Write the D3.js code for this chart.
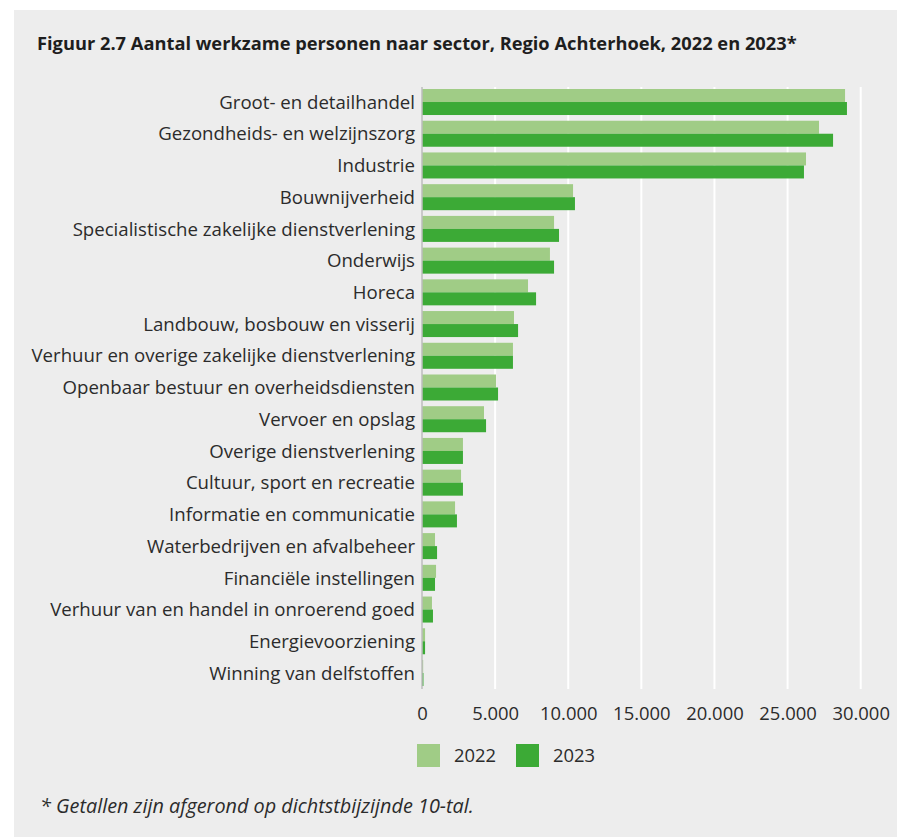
<!DOCTYPE html>
<html>
<head>
<meta charset="utf-8">
<script src="https://cdn.jsdelivr.net/npm/d3@7"></script>
<style>
  html, body { margin: 0; padding: 0; background: #ffffff; }
  svg { display: block; }
  text { font-family: "Open Sans", "Noto Sans", sans-serif; }
</style>
</head>
<body>
<svg id="chart" width="897" height="837"></svg>
<script>
const titleText = "Figuur 2.7 Aantal werkzame personen naar sector, Regio Achterhoek, 2022 en 2023*";
const footnoteText = "* Getallen zijn afgerond op dichtstbijzijnde 10-tal.";

const categories = [
  "Groot- en detailhandel",
  "Gezondheids- en welzijnszorg",
  "Industrie",
  "Bouwnijverheid",
  "Specialistische zakelijke dienstverlening",
  "Onderwijs",
  "Horeca",
  "Landbouw, bosbouw en visserij",
  "Verhuur en overige zakelijke dienstverlening",
  "Openbaar bestuur en overheidsdiensten",
  "Vervoer en opslag",
  "Overige dienstverlening",
  "Cultuur, sport en recreatie",
  "Informatie en communicatie",
  "Waterbedrijven en afvalbeheer",
  "Financiële instellingen",
  "Verhuur van en handel in onroerend goed",
  "Energievoorziening",
  "Winning van delfstoffen"
];
const series = ["2022", "2023"];
const values2022 = [28930, 27150, 26260, 10330, 9030, 8750, 7250, 6290, 6220, 5060, 4240, 2800, 2670, 2260, 890, 960, 680, 210, 80];
const values2023 = [29060, 28110, 26120, 10460, 9370, 9030, 7800, 6570, 6220, 5200, 4380, 2800, 2800, 2390, 1030, 890, 750, 210, 100];
const tickValues = [0, 5000, 10000, 15000, 20000, 25000, 30000];
const tickLabels = ["0", "5.000", "10.000", "15.000", "20.000", "25.000", "30.000"];

const colors = { "2022": "#a0cc86", "2023": "#3caa36" };

const data = categories.map((c, i) => ({ category: c, "2022": values2022[i], "2023": values2023[i] }));

const svg = d3.select("#chart");

// fit font-size so that a text reaches a target width
function fitSize(str, targetWidth, weight, style) {
  const t = svg.append("text").attr("font-size", 20)
    .attr("font-weight", weight || "normal").attr("font-style", style || "normal").text(str);
  const w = t.node().getComputedTextLength();
  t.remove();
  return 20 * targetWidth / w;
}

// panel background
svg.append("rect").attr("x", 14).attr("y", 10).attr("width", 883).attr("height", 827).attr("fill", "#ededed");

// title
const titleSize = fitSize(titleText, 760, "bold");
svg.append("text").attr("x", 37).attr("y", 50)
  .attr("font-size", titleSize).attr("font-weight", "bold").attr("fill", "#1e1e1e")
  .text(titleText);

// scales
const x = d3.scaleLinear().domain([0, 30000]).range([422, 860.7]);
const y = d3.scaleBand().domain(categories).range([83.3, 691.7]).padding(0.18);
const ySub = d3.scaleBand().domain(series).range([0, y.bandwidth()]);

const gridTop = 87, gridBottom = 689;

// gridlines
svg.append("g").selectAll("line").data(tickValues.filter(d => d > 0)).join("line")
  .attr("x1", d => x(d)).attr("x2", d => x(d))
  .attr("y1", gridTop).attr("y2", gridBottom)
  .attr("stroke", "#ffffff").attr("stroke-width", 2);

// bars
const groups = svg.append("g").selectAll("g").data(data).join("g")
  .attr("transform", d => `translate(0,${y(d.category)})`);
groups.selectAll("rect").data(d => series.map(s => ({ key: s, value: d[s] }))).join("rect")
  .attr("x", x(0))
  .attr("y", d => ySub(d.key))
  .attr("width", d => x(d.value) - x(0))
  .attr("height", ySub.bandwidth())
  .attr("fill", d => colors[d.key]);

// axis line (vertical at 0)
svg.append("line").attr("x1", x(0)).attr("x2", x(0)).attr("y1", gridTop).attr("y2", gridBottom)
  .attr("stroke", "#bdbdbd").attr("stroke-width", 1.5);

// category labels
const labelSize = fitSize("Verhuur en overige zakelijke dienstverlening", 384);
svg.append("g").selectAll("text").data(categories).join("text")
  .attr("x", 415)
  .attr("y", d => y(d) + y.bandwidth() / 2)
  .attr("dy", "0.36em")
  .attr("text-anchor", "end")
  .attr("font-size", labelSize)
  .attr("fill", "#2b2b2b")
  .text(d => d);

// x tick labels
const tickSize = fitSize("30.000", 57.5);
const xAxis = d3.axisBottom(x).tickValues(tickValues).tickFormat((d, i) => tickLabels[i]).tickSize(0).tickPadding(0);
const gx = svg.append("g").attr("transform", "translate(0,706)").call(xAxis);
gx.select(".domain").remove();
gx.selectAll("text").attr("font-size", tickSize).attr("fill", "#2b2b2b")
  .attr("font-family", "'Open Sans', 'Noto Sans', sans-serif").attr("dy", "0.75em");

// legend
const legendSize = fitSize("2022", 42);
const legendX = [417, 516];
const lg = svg.append("g").selectAll("g").data(series).join("g")
  .attr("transform", (d, i) => `translate(${legendX[i]},744)`);
lg.append("rect").attr("width", 23).attr("height", 23).attr("fill", d => colors[d]);
lg.append("text").attr("x", 37).attr("y", 11.5).attr("dy", "0.36em")
  .attr("font-size", legendSize).attr("fill", "#2b2b2b").text(d => d);

// footnote
const footSize = fitSize(footnoteText, 434, "normal", "italic");
svg.append("text").attr("x", 40).attr("y", 813)
  .attr("font-size", footSize).attr("font-style", "italic").attr("fill", "#2b2b2b")
  .text(footnoteText);
</script>
</body>
</html>
